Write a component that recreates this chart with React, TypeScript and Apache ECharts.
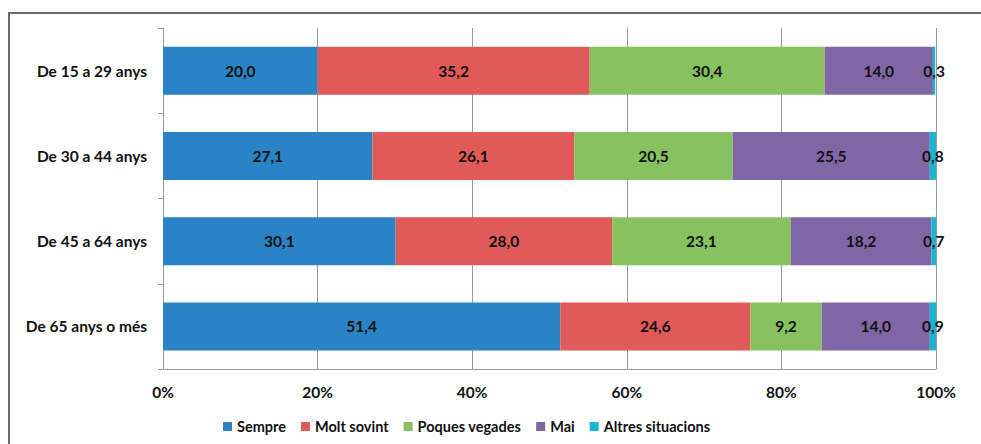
import React, { useEffect, useRef } from "react";
import * as echarts from "echarts";

const categories = ["De 15 a 29 anys", "De 30 a 44 anys", "De 45 a 64 anys", "De 65 anys o més"];
const seriesNames = ["Sempre", "Molt sovint", "Poques vegades", "Mai", "Altres situacions"];
const sempre = [20.0, 27.1, 30.1, 51.4];
const moltSovint = [35.2, 26.1, 28.0, 24.6];
const poquesVegades = [30.4, 20.5, 23.1, 9.2];
const mai = [14.0, 25.5, 18.2, 14.0];
const altres = [0.3, 0.8, 0.7, 0.9];
const colors = ["#2A83C4", "#E05A5A", "#87C160", "#8166A6", "#17B6CE"];
const xTicks = [0, 20, 40, 60, 80, 100];

const FONT = "Lato";

export default function App() {
  const ref = useRef<HTMLDivElement>(null);
  useEffect(() => {
    if (!ref.current) return;
    const chart = echarts.init(ref.current, undefined, { renderer: "svg" });
    const data = [sempre, moltSovint, poquesVegades, mai, altres];
    chart.setOption({
      animation: false,
      color: colors,
      textStyle: { fontFamily: FONT },
      graphic: [
        {
          type: "rect",
          shape: { x: 9, y: 13, width: 1000, height: 500 },
          style: { fill: "none", stroke: "#6b6b6b", lineWidth: 2 },
          silent: true,
        },
      ],
      grid: { left: 163, right: 45, top: 28, bottom: 75, containLabel: false },
      legend: {
        bottom: 5,
        left: 218,
        itemWidth: 9,
        itemHeight: 9,
        itemGap: 15,
        icon: "rect",
        textStyle: { fontFamily: FONT, fontWeight: "bold", fontSize: 14.5, color: "#111" },
        data: seriesNames,
      },
      xAxis: {
        type: "value",
        min: 0,
        max: 100,
        interval: 20,
        axisLine: { show: true, lineStyle: { color: "#9a9a9a" } },
        axisTick: { show: false },
        splitLine: { show: true, lineStyle: { color: "#9a9a9a" } },
        axisLabel: {
          formatter: (v: number) => (xTicks.includes(v) ? v + "%" : ""),
          fontFamily: FONT,
          fontWeight: "bold",
          fontSize: 15.5,
          color: "#111",
          margin: 15,
        },
      },
      yAxis: {
        type: "category",
        inverse: true,
        data: categories,
        axisLine: { show: true, lineStyle: { color: "#9a9a9a" } },
        axisTick: { show: true, length: 5, lineStyle: { color: "#9a9a9a" } },
        axisLabel: {
          fontFamily: FONT,
          fontWeight: "bold",
          fontSize: 15.5,
          color: "#111",
          margin: 16,
        },
      },
      series: seriesNames.map((name, i) => ({
        name,
        type: "bar",
        stack: "total",
        barWidth: 48,
        data: data[i],
        itemStyle: { color: colors[i] },
        label: {
          show: true,
          position: "inside",
          formatter: (p: any) => Number(p.value).toFixed(1).replace(".", ","),
          fontFamily: FONT,
          fontWeight: "bold",
          fontSize: 15.5,
          color: "#111",
        },
      })),
    });
    return () => chart.dispose();
  }, []);
  return <div ref={ref} style={{ width: 981, height: 444, position: "absolute", left: 0, top: 0 }} />;
}
